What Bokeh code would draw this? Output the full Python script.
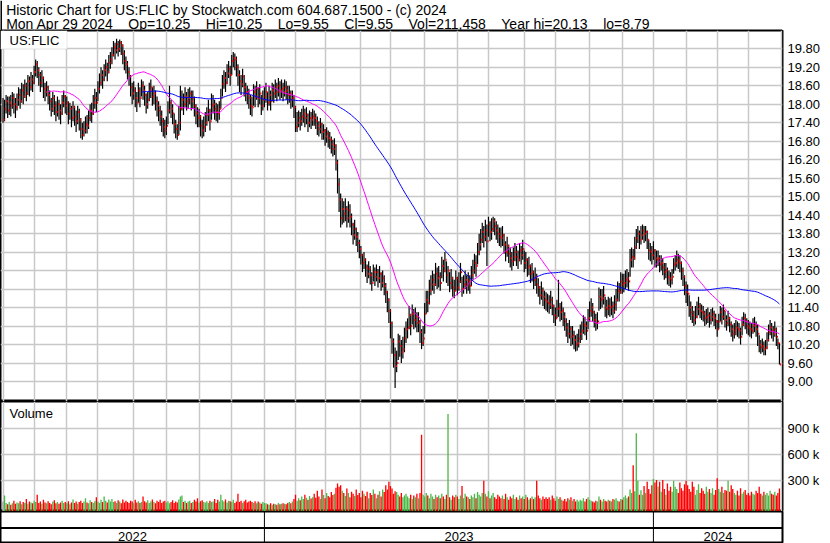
import numpy as np
import pandas as pd
from bokeh.plotting import figure
from bokeh.layouts import column
from bokeh.models import Range1d, FixedTicker, Grid
from bokeh.embed import file_html
from bokeh.resources import INLINE
from bokeh.core.properties import value

NB = "\u00a0"
TITLE_1 = "Historic Chart for US:FLIC by Stockwatch.com 604.687.1500 - (c) 2024"
TITLE_2_ITEMS = ["Mon Apr 29 2024", "Op=10.25", "Hi=10.25", "Lo=9.55", "Cl=9.55",
                 "Vol=211,458", "Year hi=20.13", "lo=8.79"]
SYMBOL = "US:FLIC"
VOLUME_LABEL = "Volume"

START_DATE = "2022-05-03"
END_DATE = "2024-04-29"
HOLIDAYS = ["2022-05-30", "2022-06-20", "2022-07-04", "2022-09-05", "2022-11-24", "2022-12-26",
            "2023-01-02", "2023-01-16", "2023-02-20", "2023-04-07", "2023-05-29", "2023-06-19",
            "2023-07-04", "2023-09-04", "2023-11-23", "2023-12-25", "2024-01-01", "2024-01-15",
            "2024-02-19", "2024-03-29"]

CLOSES = [
    17.50, 17.85, 18.10, 17.80, 18.05, 17.95, 18.20, 18.00, 17.90, 18.15,
    18.30, 18.10, 18.45, 18.25, 18.60, 18.35, 18.75, 18.55, 18.80, 18.70,
    19.05, 19.30, 19.10, 18.95, 18.70, 18.85, 18.50, 18.40, 18.55, 18.30,
    18.10, 17.85, 18.20, 17.95, 17.75, 18.00, 17.80, 17.70, 18.05, 18.25,
    17.95, 18.05, 17.70, 17.85, 17.55, 17.90, 17.60, 17.45, 17.75, 17.50,
    17.20, 17.00, 17.15, 17.35, 17.30, 17.55, 17.80, 17.70, 18.05, 18.20,
    18.05, 18.50, 18.70, 18.95, 18.80, 19.10, 19.20, 19.05, 19.35, 19.45,
    19.60, 19.85, 19.75, 19.95, 19.80, 20.00, 19.90, 19.65, 19.40, 19.30,
    19.05, 18.90, 18.55, 18.35, 18.45, 18.20, 18.05, 18.45, 18.20, 18.60,
    18.45, 18.30, 18.00, 18.15, 18.45, 18.55, 18.25, 18.35, 18.10, 17.95,
    17.80, 17.60, 17.45, 17.25, 17.15, 17.30, 17.80, 18.05, 17.85, 17.70,
    17.35, 17.20, 17.00, 17.40, 17.85, 18.15, 18.00, 18.25, 18.10, 18.20,
    18.35, 18.10, 18.20, 17.95, 17.70, 17.55, 17.60, 17.30, 17.15, 17.25,
    17.40, 17.65, 17.80, 17.45, 17.95, 18.00, 17.85, 17.75, 17.70, 17.85,
    18.20, 18.65, 18.85, 18.70, 19.00, 19.15, 18.95, 19.40, 19.50, 19.45,
    19.20, 18.95, 18.75, 18.65, 18.90, 18.55, 18.40, 18.30, 18.20, 17.95,
    17.90, 18.40, 18.25, 18.50, 18.20, 18.35, 17.95, 18.15, 18.25, 18.40,
    18.05, 18.30, 18.10, 18.45, 18.35, 18.55, 18.40, 18.60, 18.45, 18.50,
    18.40, 18.55, 18.45, 18.30, 18.35, 18.15, 18.20, 17.90, 17.25, 17.40,
    17.55, 17.45, 17.60, 17.70, 17.55, 17.65, 17.40, 17.55, 17.50, 17.60,
    17.55, 17.45, 17.30, 17.20, 17.35, 17.10, 17.15, 16.95, 17.05, 16.90,
    16.85, 16.70, 16.55, 16.65, 16.10, 15.40, 14.90, 14.30, 14.60, 14.45,
    14.60, 14.30, 14.55, 14.35, 14.10, 13.75, 13.95, 13.70, 13.50, 13.30,
    13.10, 12.85, 12.95, 12.70, 12.50, 12.65, 12.45, 12.20, 12.55, 12.40,
    12.55, 12.35, 12.50, 12.20, 12.35, 12.10, 11.90, 11.65, 11.30, 10.90,
    10.30, 9.85, 9.50, 9.60, 10.30, 10.15, 9.95, 10.05, 10.40, 10.70,
    10.75, 11.15, 10.80, 11.20, 11.00, 11.10, 10.90, 10.95, 10.60, 10.25,
    10.40, 11.20, 11.65, 11.55, 11.95, 12.15, 12.30, 12.15, 12.50, 12.35,
    12.40, 12.20, 12.75, 12.60, 12.95, 12.45, 12.60, 12.20, 12.35, 12.05,
    11.95, 12.35, 12.05, 12.25, 12.55, 12.00, 12.15, 12.30, 12.15, 12.25,
    12.10, 12.45, 12.60, 12.85, 12.75, 13.20, 13.45, 13.60, 13.85, 13.70,
    13.90, 13.55, 14.10, 13.85, 13.95, 14.20, 14.05, 13.90, 13.80, 13.70,
    13.65, 13.75, 13.45, 13.20, 13.40, 13.15, 13.00, 12.90, 13.05, 13.20,
    13.05, 12.95, 13.25, 13.10, 13.30, 12.85, 12.95, 12.70, 12.75, 12.50,
    12.55, 12.30, 12.40, 12.15, 12.05, 11.80, 11.95, 11.75, 11.65, 11.60,
    11.55, 11.50, 11.65, 11.45, 11.15, 11.05, 11.35, 11.40, 11.25, 11.30,
    11.10, 10.95, 10.75, 10.55, 10.70, 10.45, 10.50, 10.35, 10.20, 10.25,
    10.40, 10.55, 10.65, 10.85, 10.80, 10.65, 11.05, 11.30, 11.40, 11.25,
    11.00, 10.90, 10.95, 11.75, 11.65, 11.70, 11.80, 11.40, 11.35, 11.45,
    11.40, 11.45, 11.30, 11.50, 11.65, 11.95, 11.90, 12.25, 12.15, 12.20,
    12.30, 12.35, 12.25, 12.95, 13.05, 13.00, 13.35, 13.65, 13.80, 13.60,
    13.75, 13.90, 13.80, 13.85, 13.60, 13.25, 13.20, 13.10, 13.25, 13.00,
    12.95, 13.00, 12.80, 12.85, 12.70, 12.55, 12.60, 12.40, 12.35, 12.30,
    12.40, 12.80, 12.85, 12.95, 12.90, 12.85, 12.60, 12.40, 12.10, 11.90,
    11.85, 11.40, 11.25, 11.15, 11.00, 11.10, 11.35, 11.45, 11.30, 11.25,
    11.20, 11.05, 11.10, 11.15, 11.00, 11.10, 11.20, 11.05, 10.95, 10.70,
    10.95, 11.25, 11.10, 11.30, 11.00, 10.90, 11.05, 10.85, 10.70, 10.55,
    10.65, 10.75, 10.70, 10.65, 10.45, 10.85, 11.05, 10.95, 10.80, 10.75,
    10.70, 10.65, 10.80, 10.85, 10.70, 10.55, 10.20, 10.10, 10.15, 10.05,
    10.10, 10.35, 10.60, 10.75, 10.65, 10.55, 10.70, 10.45, 10.25, 9.55,
]

HIGHS = [
    18.20, 18.15, 18.30, 18.25, 18.25, 18.30, 18.40, 18.35, 18.20, 18.35,
    18.55, 18.50, 18.70, 18.65, 18.80, 18.70, 18.95, 18.90, 19.05, 18.95,
    19.25, 19.45, 19.40, 19.20, 19.05, 19.10, 18.90, 18.70, 18.75, 18.60,
    18.45, 18.20, 18.40, 18.30, 18.10, 18.25, 18.15, 18.00, 18.30, 18.45,
    18.30, 18.25, 18.10, 18.05, 17.95, 18.10, 17.95, 17.80, 17.95, 17.85,
    17.55, 17.40, 17.45, 17.60, 17.65, 17.80, 18.00, 18.05, 18.30, 18.50,
    18.40, 18.75, 19.00, 19.20, 19.10, 19.30, 19.45, 19.35, 19.60, 19.70,
    19.85, 20.05, 20.00, 20.13, 20.05, 20.10, 20.05, 19.95, 19.75, 19.55,
    19.40, 19.20, 18.95, 18.70, 18.75, 18.55, 18.40, 18.70, 18.55, 18.80,
    18.75, 18.60, 18.35, 18.40, 18.70, 18.80, 18.55, 18.60, 18.45, 18.25,
    18.10, 17.95, 17.80, 17.55, 17.50, 17.60, 18.10, 18.60, 18.15, 18.00,
    17.70, 17.50, 17.35, 17.95, 18.60, 18.45, 18.35, 18.55, 18.40, 18.50,
    18.55, 18.45, 18.45, 18.25, 18.00, 17.90, 17.85, 17.65, 17.50, 17.60,
    17.75, 17.90, 18.15, 17.85, 18.35, 18.30, 18.15, 18.05, 18.00, 18.10,
    18.50, 18.95, 19.10, 19.05, 19.30, 19.40, 19.25, 19.60, 19.70, 19.65,
    19.55, 19.30, 19.10, 18.95, 19.15, 18.95, 18.70, 18.60, 18.50, 18.30,
    18.25, 18.65, 18.60, 18.75, 18.55, 18.65, 18.30, 18.45, 18.55, 18.70,
    18.40, 18.60, 18.45, 18.70, 18.65, 18.80, 18.70, 18.85, 18.75, 18.80,
    18.70, 18.80, 18.75, 18.60, 18.60, 18.45, 18.45, 18.30, 17.95, 17.75,
    17.80, 17.75, 17.85, 17.95, 17.85, 17.90, 17.70, 17.80, 17.75, 17.85,
    17.80, 17.70, 17.60, 17.45, 17.55, 17.40, 17.35, 17.20, 17.25, 17.15,
    17.10, 16.95, 16.85, 16.90, 16.70, 16.20, 15.60, 15.10, 14.95, 14.85,
    14.95, 14.70, 14.85, 14.75, 14.45, 14.15, 14.25, 14.00, 13.85, 13.60,
    13.40, 13.15, 13.20, 13.00, 12.80, 12.90, 12.75, 12.55, 12.80, 12.70,
    12.80, 12.65, 12.75, 12.55, 12.60, 12.45, 12.20, 11.95, 11.70, 11.35,
    10.95, 10.40, 10.10, 10.00, 10.55, 10.50, 10.35, 10.45, 10.75, 10.95,
    11.05, 11.45, 11.20, 11.50, 11.35, 11.40, 11.25, 11.25, 11.00, 10.70,
    10.80, 11.55, 11.95, 11.95, 12.30, 12.45, 12.60, 12.50, 12.85, 12.70,
    12.75, 12.55, 13.05, 12.95, 13.20, 12.90, 12.75, 12.55, 12.65, 12.40,
    12.30, 12.60, 12.40, 12.55, 12.85, 12.40, 12.45, 12.60, 12.45, 12.55,
    12.45, 12.75, 12.95, 13.15, 13.10, 13.50, 13.80, 13.95, 14.15, 14.05,
    14.25, 14.10, 14.35, 14.20, 14.30, 14.35, 14.30, 14.20, 14.10, 14.00,
    14.00, 14.05, 13.80, 13.55, 13.70, 13.45, 13.35, 13.20, 13.35, 13.50,
    13.40, 13.25, 13.50, 13.40, 13.60, 13.25, 13.20, 13.00, 13.05, 12.80,
    12.85, 12.60, 12.70, 12.50, 12.35, 12.10, 12.25, 12.05, 11.95, 11.90,
    11.85, 11.80, 11.95, 11.75, 11.50, 11.40, 11.65, 12.30, 11.55, 11.60,
    11.40, 11.25, 11.05, 10.90, 11.00, 10.80, 10.80, 10.65, 10.50, 10.55,
    10.70, 10.85, 10.95, 11.15, 11.10, 10.95, 11.35, 11.60, 11.70, 11.55,
    11.30, 11.20, 11.25, 12.05, 12.00, 12.00, 12.10, 11.75, 11.65, 11.75,
    11.70, 11.75, 11.60, 11.80, 12.00, 12.25, 12.20, 12.55, 12.50, 12.50,
    12.60, 12.65, 12.55, 13.30, 13.35, 13.30, 13.70, 13.95, 14.05, 13.90,
    14.05, 14.10, 14.05, 14.05, 13.90, 13.60, 13.50, 13.40, 13.55, 13.30,
    13.25, 13.25, 13.10, 13.10, 13.00, 12.85, 12.85, 12.70, 12.60, 12.55,
    12.65, 13.00, 13.10, 13.25, 13.15, 13.10, 12.90, 12.70, 12.45, 12.25,
    12.15, 11.80, 11.60, 11.45, 11.30, 11.45, 11.60, 11.75, 11.55, 11.50,
    11.45, 11.30, 11.35, 11.40, 11.25, 11.35, 11.40, 11.30, 11.20, 11.00,
    11.20, 11.45, 11.40, 11.50, 11.30, 11.15, 11.30, 11.10, 10.95, 10.85,
    10.90, 11.00, 10.95, 10.90, 10.75, 11.10, 11.25, 11.20, 11.05, 11.00,
    10.95, 10.90, 11.05, 11.10, 10.95, 10.85, 10.50, 10.35, 10.40, 10.30,
    10.35, 10.60, 10.85, 11.00, 10.90, 10.80, 10.95, 10.75, 10.40, 10.25,
]

LOWS = [
    17.40, 17.45, 17.70, 17.55, 17.65, 17.60, 17.85, 17.70, 17.55, 17.80,
    17.95, 17.85, 18.05, 18.00, 18.20, 18.10, 18.30, 18.25, 18.45, 18.40,
    18.65, 18.90, 18.85, 18.60, 18.40, 18.55, 18.20, 18.10, 18.25, 18.00,
    17.80, 17.60, 17.75, 17.65, 17.45, 17.60, 17.50, 17.35, 17.65, 17.90,
    17.70, 17.65, 17.35, 17.50, 17.25, 17.45, 17.30, 17.10, 17.35, 17.15,
    16.90, 16.85, 16.95, 17.05, 17.05, 17.20, 17.45, 17.40, 17.65, 17.85,
    17.75, 18.10, 18.35, 18.60, 18.50, 18.75, 18.90, 18.75, 19.00, 19.15,
    19.30, 19.55, 19.45, 19.65, 19.55, 19.70, 19.60, 19.30, 19.10, 19.00,
    18.80, 18.60, 18.25, 18.00, 18.15, 17.90, 17.75, 18.05, 17.90, 18.25,
    18.15, 17.95, 17.70, 17.85, 18.10, 18.20, 17.95, 18.00, 17.80, 17.60,
    17.45, 17.30, 17.10, 16.95, 16.90, 17.00, 17.35, 17.70, 17.55, 17.35,
    17.05, 16.90, 16.85, 17.00, 17.15, 17.80, 17.65, 17.90, 17.80, 17.85,
    18.00, 17.80, 17.85, 17.60, 17.35, 17.25, 17.25, 16.95, 16.90, 16.95,
    17.10, 17.30, 17.45, 17.15, 17.50, 17.70, 17.50, 17.45, 17.40, 17.50,
    17.85, 18.25, 18.50, 18.40, 18.65, 18.85, 18.60, 18.95, 19.20, 19.10,
    18.90, 18.60, 18.40, 18.30, 18.55, 18.25, 18.10, 18.00, 17.85, 17.65,
    17.60, 17.95, 17.90, 18.15, 17.90, 18.00, 17.65, 17.80, 17.90, 18.05,
    17.80, 17.95, 17.80, 18.10, 18.05, 18.20, 18.10, 18.25, 18.15, 18.20,
    18.10, 18.25, 18.15, 18.00, 18.05, 17.85, 17.90, 17.55, 17.10, 17.10,
    17.25, 17.15, 17.30, 17.40, 17.25, 17.35, 17.10, 17.25, 17.20, 17.30,
    17.30, 17.20, 17.00, 16.95, 17.05, 16.85, 16.85, 16.65, 16.75, 16.60,
    16.55, 16.40, 16.30, 16.35, 15.85, 15.10, 14.50, 14.00, 14.10, 14.15,
    14.20, 14.00, 14.15, 14.00, 13.75, 13.45, 13.60, 13.40, 13.20, 13.00,
    12.80, 12.55, 12.65, 12.40, 12.20, 12.35, 12.15, 11.95, 12.25, 12.10,
    12.25, 12.05, 12.20, 11.95, 12.05, 11.80, 11.55, 11.25, 10.90, 10.40,
    9.90, 9.45, 8.79, 9.30, 9.70, 9.80, 9.60, 9.75, 9.95, 10.25,
    10.40, 10.70, 10.50, 10.85, 10.70, 10.75, 10.60, 10.60, 10.25, 10.05,
    10.15, 10.55, 11.20, 11.25, 11.50, 11.80, 11.95, 11.85, 12.10, 12.00,
    12.05, 11.95, 12.35, 12.25, 12.55, 12.20, 12.10, 11.90, 12.00, 11.75,
    11.70, 11.95, 11.80, 11.95, 12.20, 11.75, 11.85, 12.00, 11.85, 11.95,
    11.85, 12.10, 12.30, 12.50, 12.40, 12.80, 13.10, 13.25, 13.50, 13.35,
    13.55, 12.75, 13.70, 13.55, 13.60, 13.85, 13.75, 13.60, 13.50, 13.40,
    13.35, 13.40, 13.15, 12.90, 13.05, 12.85, 12.70, 12.60, 12.75, 12.90,
    12.75, 12.65, 12.90, 12.80, 12.95, 12.55, 12.65, 12.40, 12.45, 12.20,
    12.25, 12.00, 12.10, 11.85, 11.75, 11.50, 11.65, 11.45, 11.35, 11.30,
    11.25, 11.20, 11.35, 11.15, 10.90, 10.80, 11.05, 11.10, 10.95, 11.00,
    10.80, 10.65, 10.45, 10.25, 10.40, 10.15, 10.20, 10.05, 9.97, 10.00,
    10.10, 10.25, 10.35, 10.55, 10.50, 10.35, 10.70, 10.95, 11.10, 10.95,
    10.75, 10.65, 10.70, 11.30, 11.35, 11.40, 11.50, 11.10, 11.05, 11.15,
    11.10, 11.15, 11.05, 11.20, 11.30, 11.60, 11.60, 11.85, 11.85, 11.90,
    12.00, 12.05, 11.95, 12.40, 12.70, 12.70, 12.95, 13.30, 13.50, 13.30,
    13.45, 13.60, 13.50, 13.55, 13.30, 12.95, 12.90, 12.80, 12.95, 12.70,
    12.70, 12.75, 12.55, 12.60, 12.45, 12.30, 12.35, 12.15, 12.10, 12.05,
    12.15, 12.50, 12.60, 12.70, 12.65, 12.55, 12.30, 12.10, 11.80, 11.55,
    11.45, 11.10, 11.00, 10.90, 10.80, 10.85, 11.05, 11.15, 11.05, 11.00,
    10.95, 10.80, 10.85, 10.90, 10.75, 10.85, 10.95, 10.80, 10.70, 10.45,
    10.70, 10.95, 10.85, 11.00, 10.75, 10.65, 10.80, 10.60, 10.45, 10.30,
    10.40, 10.50, 10.45, 10.40, 10.20, 10.50, 10.80, 10.70, 10.55, 10.50,
    10.45, 10.40, 10.55, 10.60, 10.45, 10.15, 9.95, 9.90, 9.95, 9.85,
    9.85, 10.05, 10.30, 10.50, 10.40, 10.30, 10.45, 10.15, 10.05, 9.55,
]

VOLUMES_K = [
    60, 130, 45, 30, 55, 25, 40, 70, 35, 50,
    40, 65, 30, 55, 45, 90, 35, 60, 50, 40,
    70, 55, 140, 45, 60, 35, 80, 50, 40, 65,
    45, 30, 60, 75, 40, 55, 35, 50, 70, 45,
    55, 40, 65, 30, 50, 85, 45, 60, 35, 55,
    70, 45, 60, 100, 50, 40, 75, 55, 45, 65,
    110, 60, 45, 80, 55, 120, 70, 50, 85, 60,
    90, 55, 65, 45, 75, 60, 40, 85, 50, 70,
    55, 45, 70, 60, 40, 80, 50, 65, 45, 55,
    120, 65, 50, 75, 45, 60, 85, 55, 40, 70,
    55, 80, 45, 60, 70, 50, 65, 40, 55, 75,
    45, 60, 50, 85, 120, 130, 55, 70, 45, 60,
    70, 45, 55, 80, 60, 100, 50, 65, 75, 55,
    50, 65, 45, 70, 55, 60, 90, 45, 80, 60,
    140, 75, 60, 85, 50, 70, 65, 55, 80, 45,
    60, 150, 55, 70, 45, 65, 80, 50, 60, 70,
    55, 45, 65, 40, 60, 50, 35, 55, 45, 40,
    30, 25, 40, 20, 35, 30, 25, 45, 30, 35,
    40, 35, 30, 45, 55, 40, 60, 90, 140, 70,
    100, 75, 120, 90, 140, 105, 80, 125, 95, 110,
    150, 105, 185, 120, 90, 200, 135, 100, 160, 125,
    110, 170, 135, 150, 220, 270, 230, 250, 185, 160,
    125, 210, 160, 110, 175, 150, 125, 200, 135, 160,
    110, 185, 150, 125, 175, 100, 160, 135, 200, 150,
    100, 140, 180, 120, 200, 170, 250, 200, 290, 240,
    210, 150, 180, 170, 140, 120, 160, 110, 130, 150,
    120, 100, 140, 90, 130, 110, 150, 100, 160, 830,
    140, 120, 160, 130, 100, 150, 120, 90, 140, 110,
    130, 100, 150, 120, 90, 140, 1070, 110, 80, 130,
    110, 140, 120, 90, 130, 240, 100, 150, 120, 110,
    90, 130, 110, 150, 100, 170, 140, 120, 160, 300,
    150, 120, 180, 100, 130, 160, 110, 90, 140, 120,
    100, 130, 90, 150, 110, 80, 120, 100, 140, 90,
    110, 80, 130, 100, 120, 90, 140, 110, 80, 100,
    120, 90, 110, 300, 130, 100, 80, 120, 90, 110,
    90, 110, 80, 130, 100, 70, 120, 90, 110, 80,
    70, 90, 60, 100, 80, 110, 70, 90, 60, 80,
    60, 80, 70, 100, 60, 90, 110, 80, 70, 60,
    50, 70, 60, 120, 80, 60, 90, 70, 60, 80,
    70, 60, 90, 80, 100, 70, 60, 90, 80, 110,
    130, 100, 120, 200, 160, 480, 180, 850, 300, 140,
    190, 140, 240, 160, 290, 205, 150, 250, 320, 280,
    310, 230, 290, 175, 310, 205, 140, 270, 185, 230,
    175, 300, 230, 205, 160, 280, 215, 185, 260, 300,
    250, 205, 175, 290, 230, 140, 195, 260, 160, 215,
    185, 150, 230, 175, 205, 160, 215, 140, 195, 330,
    205, 175, 230, 160, 195, 185, 300, 175, 250, 205,
    160, 140, 185, 130, 215, 150, 175, 195, 140, 160,
    130, 175, 150, 140, 185, 160, 230, 150, 130, 175,
    140, 160, 130, 185, 150, 140, 175, 130, 160, 211,
]

PRICE_TICKS = [9.00, 9.60, 10.20, 10.80, 11.40, 12.00, 12.60, 13.20, 13.80, 14.40,
               15.00, 15.60, 16.20, 16.80, 17.40, 18.00, 18.60, 19.20, 19.80]
PRICE_TICK_LABELS = ["9.00", "9.60", "10.20", "10.80", "11.40", "12.00", "12.60", "13.20",
                     "13.80", "14.40", "15.00", "15.60", "16.20", "16.80", "17.40", "18.00",
                     "18.60", "19.20", "19.80"]
VOL_TICKS = [300000, 600000, 900000]
VOL_TICK_LABELS = ["300 k", "600 k", "900 k"]
MA_FAST = 30
MA_SLOW = 90

# ---------------------------------------------------------------- derived
n = len(CLOSES)
dates = pd.bdate_range(START_DATE, END_DATE, freq="C", holidays=HOLIDAYS)[:n]
idx = np.arange(n)
close = np.array(CLOSES, dtype=float)
high = np.array(HIGHS, dtype=float)
low = np.array(LOWS, dtype=float)
vol = np.array(VOLUMES_K, dtype=float) * 1000.0
prev = np.r_[close[0], close[:-1]]
RED, GREEN, GRAY = "#ff0000", "#4cb848", "#a0a0a0"
vcol = np.where(close > prev, GREEN, np.where(close < prev, RED, GRAY))
ma_fast = pd.Series(close).rolling(MA_FAST).mean().to_numpy()
ma_slow = pd.Series(close).rolling(MA_SLOW).mean().to_numpy()

month_starts = [0] + [i for i in range(1, n) if dates[i].month != dates[i - 1].month] + [n]
year_starts = [i for i in range(1, n) if dates[i].year != dates[i - 1].year]

FONT = "Liberation Sans"
GRID = "#c8c8c8"
W = 830
RIGHT = 48
FRAME_W = W - RIGHT
BAR_PX = 1.556
X0 = -2.5 / BAR_PX
X1 = X0 + FRAME_W / BAR_PX
H_HDR, H_PRICE, H_VOL, H_YEAR = 30, 371, 110, 32
PX_PER_DOLLAR = 30.806
P1 = 19.80 + 18.3 / PX_PER_DOLLAR
P0 = P1 - H_PRICE / PX_PER_DOLLAR
VOL_PER_PX = 300000 / 26.0
V1 = 105.3 * VOL_PER_PX
V0 = V1 - H_VOL * VOL_PER_PX


def xpx(px):
    return X0 + px / BAR_PX


def panel(h, y0, y1, right_axis=True):
    p = figure(width=W, height=h, x_range=Range1d(X0, X1), y_range=Range1d(y0, y1),
               output_backend="svg", toolbar_location=None, x_axis_location=None,
               y_axis_location="right" if right_axis else None,
               min_border_left=0, min_border_right=RIGHT, min_border_top=0, min_border_bottom=0)
    p.grid.visible = False
    p.outline_line_color = "black"
    p.outline_line_width = 2
    p.background_fill_color = "white"
    p.border_fill_color = "white"
    return p


def style_axis(p, ticks, labels):
    ax = p.yaxis[0]
    ax.ticker = FixedTicker(ticks=ticks)
    ax.major_label_overrides = {t: l for t, l in zip(ticks, labels)}
    ax.axis_line_color = None
    ax.major_tick_line_color = None
    ax.minor_tick_line_color = None
    ax.major_tick_out = 0
    ax.major_tick_in = 0
    ax.major_label_standoff = 5
    ax.major_label_text_font = FONT
    ax.major_label_text_font_size = "13px"
    ax.major_label_text_color = "black"


# ---------------------------------------------------------------- header
hdr = figure(width=W, height=H_HDR, x_range=Range1d(0, W), y_range=Range1d(H_HDR, 0),
             output_backend="svg", toolbar_location=None, x_axis_location=None,
             y_axis_location=None, min_border=0)
hdr.grid.visible = False
hdr.outline_line_color = None
title_2 = (" " + NB + " " + NB).join(TITLE_2_ITEMS)
hdr.text(x=[6, 6], y=[9.5, 23], text=[TITLE_1, title_2], text_font=value(FONT),
         text_font_size="14px", text_baseline="middle", text_color="black")
hdr.segment(x0=[0], y0=[H_HDR - 0.5], x1=[W], y1=[H_HDR - 0.5], line_color="black", line_width=1)
hdr.segment(x0=[0.5], y0=[0], x1=[0.5], y1=[H_HDR], line_color="black", line_width=2)

# ---------------------------------------------------------------- price
pp = panel(H_PRICE, P0, P1)
style_axis(pp, PRICE_TICKS, PRICE_TICK_LABELS)
pp.add_layout(Grid(dimension=0, ticker=FixedTicker(ticks=month_starts), grid_line_color=GRID, grid_line_width=1.5))
pp.add_layout(Grid(dimension=1, ticker=FixedTicker(ticks=PRICE_TICKS), grid_line_color=GRID, grid_line_width=1.5))
pp.quad(left=[X0], right=[month_starts[2]], bottom=[PRICE_TICKS[-1]], top=[P1],
        fill_color="white", line_color=None)
pp.text(x=[xpx(9)], y=[P1 - 10.0 / PX_PER_DOLLAR], text=[SYMBOL], text_font=value(FONT),
        text_font_size="13px", text_baseline="middle", text_color="black")

pp.segment(x0=idx, y0=low, x1=idx, y1=high, line_color="black", line_width=1.2)
pp.segment(x0=idx + 0.3, y0=close, x1=idx + 1.1, y1=close, line_color=RED, line_width=2)
pp.line(idx, ma_fast, line_color="#ff00ff", line_width=1)
pp.line(idx, ma_slow, line_color="#0000ff", line_width=1)

# ---------------------------------------------------------------- volume
vp = panel(H_VOL, V0, V1)
style_axis(vp, VOL_TICKS, VOL_TICK_LABELS)
vp.add_layout(Grid(dimension=0, ticker=FixedTicker(ticks=month_starts), grid_line_color=GRID, grid_line_width=1.5))
vp.add_layout(Grid(dimension=1, ticker=FixedTicker(ticks=VOL_TICKS), grid_line_color=GRID, grid_line_width=1.5))
vp.vbar(x=idx, top=vol, bottom=V0, width=0.85, fill_color=vcol, line_color=None)
vp.text(x=[xpx(9)], y=[V1 - 12.0 * VOL_PER_PX], text=[VOLUME_LABEL], text_font=value(FONT),
        text_font_size="13px", text_baseline="middle", text_color="black")

# ---------------------------------------------------------------- years
yp = panel(H_YEAR, H_YEAR, 0, right_axis=False)
yp.segment(x0=[X0], y0=[16.5], x1=[X1], y1=[16.5], line_color="black", line_width=2)
yp.segment(x0=year_starts, y0=[0] * len(year_starts), x1=year_starts, y1=[H_YEAR] * len(year_starts),
           line_color="black", line_width=1)
bounds = [X0] + year_starts + [X1]
year_names = [str(dates[0].year)] + [str(dates[i].year) for i in year_starts]
centers = [(bounds[k] + bounds[k + 1]) / 2 for k in range(len(year_names))]
yp.text(x=centers, y=[24.5] * len(centers), text=year_names, text_font=value(FONT),
        text_font_size="13px", text_align="center", text_baseline="middle", text_color="black")

layout = column(hdr, pp, vp, yp, spacing=0)
open("out.html", "w").write(file_html(layout, INLINE))
